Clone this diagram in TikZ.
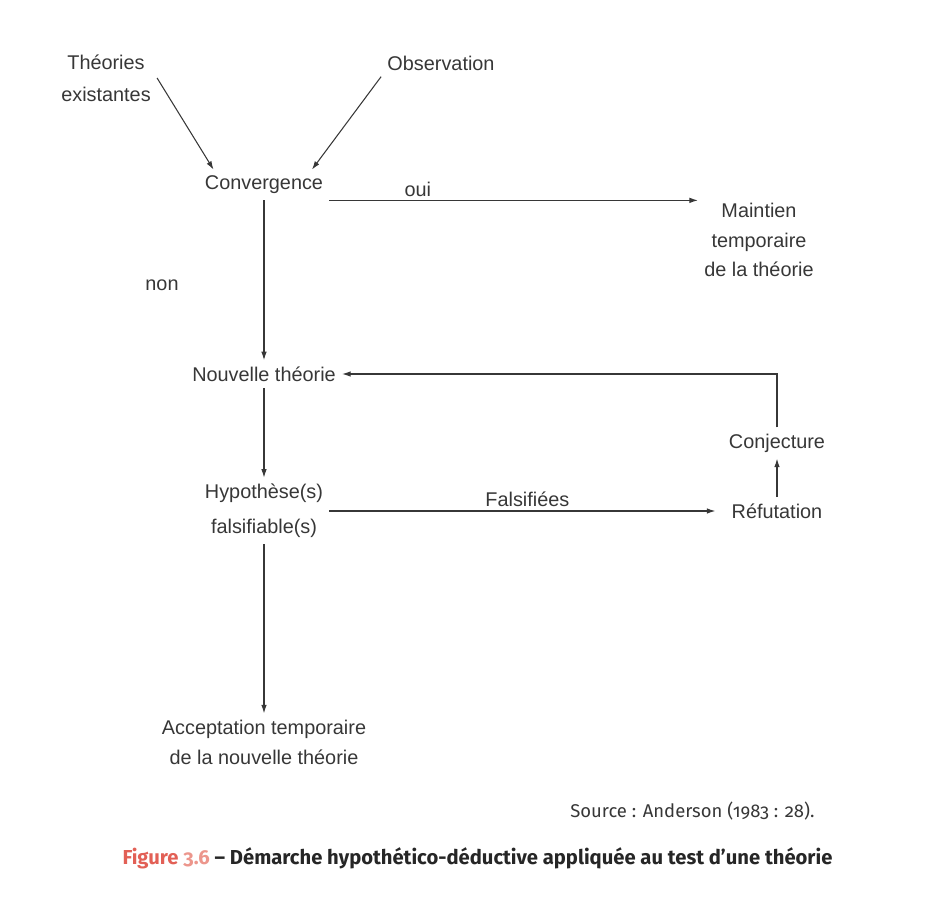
\documentclass[tikz,border=0pt]{standalone}
\usepackage{fontspec}
\setmainfont{Liberation Sans}
\newfontfamily\capfont{Fira Sans}[Numbers=OldStyle]
\usepackage{xcolor}
\usepackage{tikz}
\usetikzlibrary{arrows.meta,positioning,calc}

\definecolor{inkgray}{RGB}{55,55,55}
\definecolor{figred}{RGB}{226,96,86}
\definecolor{figpink}{RGB}{236,150,140}

\begin{document}
\begin{tikzpicture}[
    node distance=2cm and 3cm,
    on grid,
    >={Latex[length=1.7mm, width=1.1mm]},
    line width=0.6pt,
    box/.style={
        align=center, text=inkgray,
        font=\fontsize{11.3}{18}\selectfont
    },
    tag/.style={
        text=inkgray, inner sep=2pt,
        font=\fontsize{11.3}{18}\selectfont
    },
    flow/.style={->, draw=inkgray}
]
    \useasboundingbox (0,0) rectangle (18.52,-18.36);

    % Starting points
    \node [box] (conv) at (5.28,-3.70) {Convergence};
    \node [box, above left=2.14cm and 3.16cm of conv] (theo) {Théories\\existantes};
    \node [box, above right=2.44cm and 3.54cm of conv] (obs) {Observation};

    % Outcome when both agree
    \node [box, below right=1.1cm and 9.9cm of conv, font=\fontsize{11.3}{17}\selectfont] (maint) {Maintien\\temporaire\\de la théorie};
    \node [box, below left=2cm and 2.04cm of conv] (non) {non};

    % Main column
    \node [box, below=3.78cm of conv] (nouv) {Nouvelle théorie};
    \node [box, below=2.74cm of nouv, font=\fontsize{11.3}{20}\selectfont] (hyp) {Hypothèse(s)\\falsifiable(s)};
    \node [box, below=4.62cm of hyp, font=\fontsize{11.3}{17}\selectfont] (accept) {Acceptation temporaire\\de la nouvelle théorie};

    % Refutation loop
    \node [box, right=10.26cm of hyp] (ref) {Réfutation};
    \node [box, above=1.36cm of ref] (conj) {Conjecture};

    % Arrows
    \draw [flow] (theo.east) -- ([xshift=3mm]conv.north west);
    \draw [flow] (obs.south west) -- ([xshift=-3.5mm]conv.north east);
    \draw [flow] (conv.south east) -- (conv.south east -| maint.west)
        node [tag, pos=0.24, above] {oui};
    \draw [flow] (conv) -- (nouv);
    \draw [flow] (nouv) -- (hyp);
    \draw [flow] (hyp) -- (accept);
    \draw [flow, shorten >=2mm] (hyp.east) -- (hyp.east -| ref.west)
        node [tag, pos=0.5, above] {Falsifiées};
    \draw [flow] (ref) -- (conj);
    \draw [flow] (conj.north) |- (nouv.east);

    % Source and caption
    \node [anchor=east, inner sep=0pt, text=inkgray, font=\capfont\fontsize{10.5}{12}\selectfont] (src) at (16.3,-16.22) {Source : Anderson (1983 : 28).};
    \node [anchor=west, inner sep=0pt, text=black!85, font=\capfont\bfseries\fontsize{11.5}{14}\selectfont] (cap) at (2.44,-17.16) {\textcolor{figred}{Figure} \textcolor{figpink}{3.6} – Démarche hypothético-déductive appliquée au test d’une théorie};

\end{tikzpicture}
\end{document}
